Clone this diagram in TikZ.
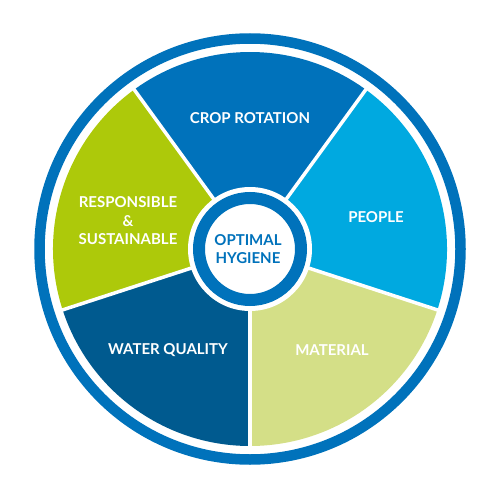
\documentclass[tikz,border=0pt]{standalone}
\usepackage{fontspec}
\setmainfont{Lato}
\definecolor{ringblue}{RGB}{0,114,187}
\definecolor{cropblue}{RGB}{0,114,187}
\definecolor{peopleblue}{RGB}{0,169,224}
\definecolor{materialgreen}{RGB}{212,223,135}
\definecolor{waterblue}{RGB}{0,90,143}
\definecolor{limegreen}{RGB}{173,201,10}
\begin{document}
\begin{tikzpicture}[x=1pt,y=1pt,
  lbl/.style={text=white,font=\bfseries\fontsize{15}{18.5}\selectfont,align=center,inner sep=0pt},
  centerlbl/.style={text=ringblue,font=\bfseries\fontsize{15}{18}\selectfont,align=center,inner sep=0pt},
  divider/.style={white,line width=3.5pt}]
\useasboundingbox (0,0) rectangle (500,499);
\coordinate (c) at (250,250);
% outer ring
\draw[ringblue,line width=10.5pt] (c) circle[radius=210.5];
% segments
\fill[cropblue] (c) -- ++(54:197) arc[start angle=54,end angle=126,radius=197] -- cycle;
\fill[limegreen] (c) -- ++(126:197) arc[start angle=126,end angle=198,radius=197] -- cycle;
\fill[waterblue] (c) -- ++(198:197) arc[start angle=198,end angle=270,radius=197] -- cycle;
\fill[materialgreen] (c) -- ++(270:197) arc[start angle=270,end angle=342,radius=197] -- cycle;
\fill[peopleblue] (c) -- ++(342:197) arc[start angle=342,end angle=414,radius=197] -- cycle;
% dividers
\foreach \a in {54,126,198,270,342}
  \draw[divider] (c) -- ++(\a:199);
% center
\fill[white] (c) circle[radius=62];
\draw[ringblue,line width=12pt] (c) circle[radius=51];
% labels
\node[lbl] (crop) at (250,381) {CROP ROTATION};
\node[lbl] (people) at (376,282) {PEOPLE};
\node[lbl] (resp) at (128,278) {RESPONSIBLE\\\&\\SUSTAINABLE};
\node[lbl] (water) at (168,149) {WATER QUALITY};
\node[lbl] (material) at (332,149) {MATERIAL};
\node[centerlbl] (optimal) at (248,250) {OPTIMAL\\HYGIENE};
\end{tikzpicture}
\end{document}
